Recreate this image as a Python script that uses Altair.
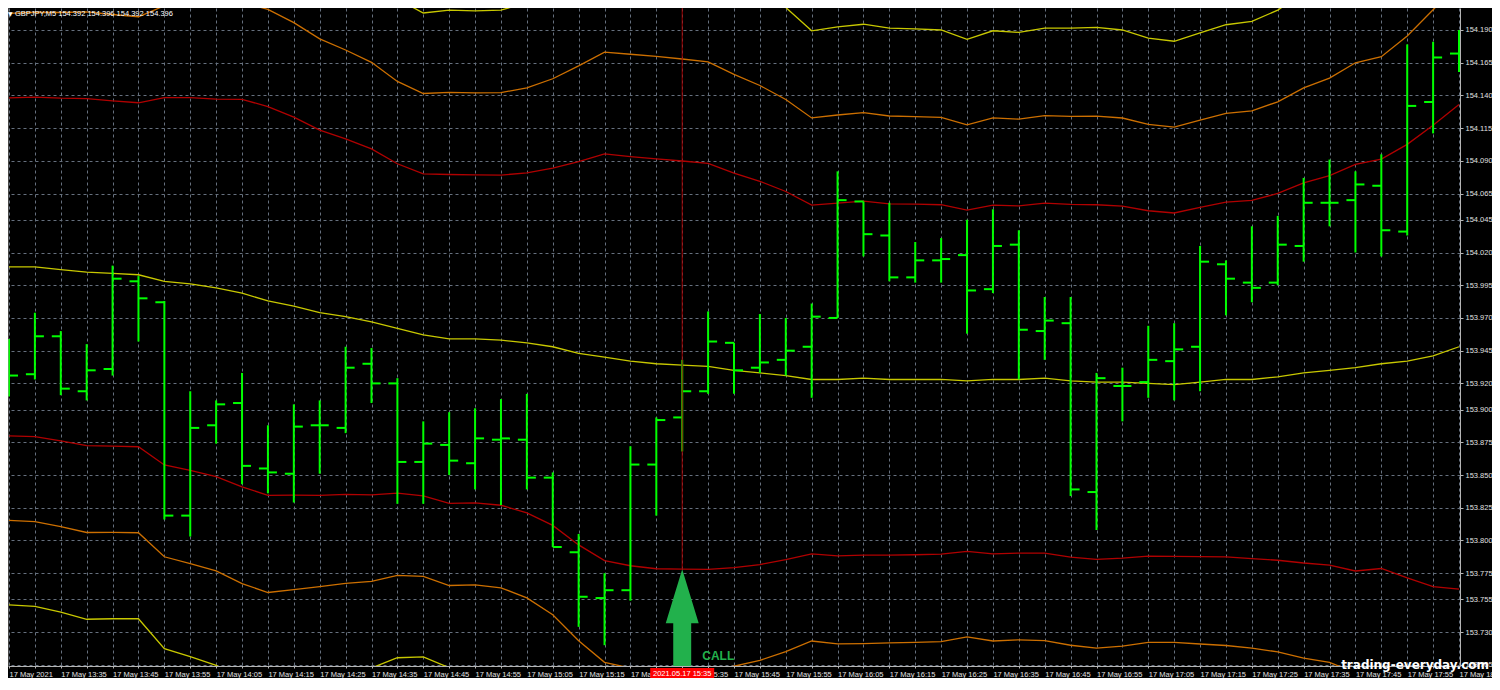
import json
import altair as alt
import pandas as pd

# ---------------- data (GBPJPY M5, 17 May 2021 13:25 .. 18:05) ----------------
bar_open = [153.930, 153.927, 153.956, 153.914, 153.931, 153.998, 153.982, 153.819, 153.888, 153.905,
            153.855, 153.851, 153.888, 153.886, 153.935, 153.920, 153.860, 153.873, 153.859, 153.877,
            153.877, 153.848, 153.791, 153.756, 153.762, 153.858, 153.894, 153.914, 153.951, 153.932,
            153.938, 153.948, 153.970, 154.059, 154.033, 154.001, 154.014, 154.018, 153.992, 154.026,
            153.960, 153.966, 153.837, 153.918, 153.921, 153.937, 153.948, 154.011, 153.997, 153.997,
            154.025, 154.058, 154.060, 154.071, 154.036, 154.135, 154.172]
bar_high = [153.954, 153.974, 153.960, 153.950, 154.010, 154.002, 153.983, 153.914, 153.907, 153.928,
            153.888, 153.904, 153.907, 153.948, 153.947, 153.924, 153.891, 153.898, 153.901, 153.908,
            153.912, 153.852, 153.805, 153.775, 153.872, 153.894, 153.938, 153.975, 153.951, 153.973,
            153.970, 153.981, 154.082, 154.059, 154.058, 154.028, 154.031, 154.045, 154.053, 154.037,
            153.986, 153.986, 153.928, 153.932, 153.964, 153.966, 154.025, 154.014, 154.040, 154.048,
            154.077, 154.091, 154.082, 154.095, 154.179, 154.181, 154.190]
bar_low = [153.910, 153.923, 153.911, 153.907, 153.926, 153.952, 153.816, 153.803, 153.874, 153.843,
           153.836, 153.829, 153.851, 153.882, 153.905, 153.828, 153.828, 153.850, 153.839, 153.827,
           153.839, 153.795, 153.734, 153.720, 153.754, 153.819, 153.868, 153.912, 153.912, 153.928,
           153.926, 153.909, 153.970, 154.017, 153.998, 153.997, 153.997, 153.958, 153.989, 153.923,
           153.938, 153.834, 153.808, 153.891, 153.909, 153.907, 153.914, 153.972, 153.982, 153.995,
           154.013, 154.040, 154.020, 154.017, 154.033, 154.111, 154.158]
bar_close = [153.926, 153.956, 153.916, 153.930, 154.000, 153.985, 153.819, 153.886, 153.904, 153.857,
             153.852, 153.887, 153.888, 153.932, 153.920, 153.860, 153.874, 153.861, 153.878, 153.878,
             153.848, 153.795, 153.757, 153.762, 153.858, 153.892, 153.914, 153.952, 153.930, 153.936,
             153.945, 153.971, 154.060, 154.034, 154.001, 154.014, 154.015, 153.991, 154.025, 153.961,
             153.968, 153.839, 153.924, 153.918, 153.938, 153.946, 154.013, 154.000, 153.993, 154.026,
             154.058, 154.058, 154.072, 154.037, 154.132, 154.169, 154.172]

# Bollinger middle line and band half-width (one deviation unit) at every bar
band_mid = [154.009, 154.009, 154.007, 154.005, 154.004, 154.003, 153.998, 153.996, 153.993, 153.989,
            153.983, 153.979, 153.974, 153.971, 153.967, 153.962, 153.957, 153.954, 153.954, 153.953,
            153.951, 153.948, 153.943, 153.940, 153.937, 153.935, 153.934, 153.933, 153.930, 153.928,
            153.926, 153.923, 153.923, 153.924, 153.923, 153.923, 153.923, 153.922, 153.923, 153.923,
            153.924, 153.922, 153.921, 153.921, 153.920, 153.919, 153.921, 153.923, 153.923, 153.925,
            153.928, 153.930, 153.932, 153.935, 153.937, 153.941, 153.948]
band_dev = [0.1291, 0.1297, 0.1309, 0.1326, 0.1319, 0.1314, 0.1403, 0.1424, 0.1442, 0.1480,
            0.1485, 0.1444, 0.1395, 0.1358, 0.1322, 0.1258, 0.1230, 0.1256, 0.1253, 0.1261,
            0.1299, 0.1365, 0.1464, 0.1554, 0.1563, 0.1566, 0.1559, 0.1551, 0.1507, 0.1464,
            0.1406, 0.1332, 0.1347, 0.1352, 0.1342, 0.1339, 0.1335, 0.1304, 0.1332, 0.1326,
            0.1337, 0.1347, 0.1355, 0.1345, 0.1319, 0.1312, 0.1334, 0.1355, 0.1368, 0.1401,
            0.1452, 0.1488, 0.1553, 0.1564, 0.1656, 0.1763, 0.1851]
band_names = ["upper 2.0", "upper 1.5", "upper 1.0", "middle", "lower 1.0", "lower 1.5", "lower 2.0"]
band_mult = [2.0, 1.5, 1.0, 0.0, -1.0, -1.5, -2.0]

y_ticks = [154.190, 154.165, 154.140, 154.115, 154.090, 154.065, 154.045, 154.020, 153.995, 153.970,
           153.945, 153.920, 153.900, 153.875, 153.850, 153.825, 153.800, 153.775, 153.755, 153.730,
           153.705]
x_labels = ["17 May 2021", "17 May 13:35", "17 May 13:45", "17 May 13:55", "17 May 14:05",
            "17 May 14:15", "17 May 14:25", "17 May 14:35", "17 May 14:45", "17 May 14:55",
            "17 May 15:05", "17 May 15:15", "17 May 15:25", "17 May 15:35", "17 May 15:45",
            "17 May 15:55", "17 May 16:05", "17 May 16:15", "17 May 16:25", "17 May 16:35",
            "17 May 16:45", "17 May 16:55", "17 May 17:05", "17 May 17:15", "17 May 17:25",
            "17 May 17:35", "17 May 17:45", "17 May 17:55", "17 May 18:05"]
signal_bar = 26
signal_label = "2021.05.17 15:35"
header_text = "GBPJPY,M5  154.392 154.396 154.392 154.396"
watermark = "trading-everyday.com"

# ---------------- styling ----------------
W, H = 1452, 658
YELLOW, ORANGE, RED = "#c8c800", "#cc6f00", "#b00000"
band_colors = [YELLOW, ORANGE, RED, YELLOW, RED, ORANGE, YELLOW]
BAR = "#00ff00"
GRID = "#66707e"
AXIS = "#b4b4b4"
LABEL = "#e0e0e0"
FONT = "Liberation Sans"
ARROW = "#22b14c"

n = len(bar_open)
idx = list(range(n))
bars = pd.DataFrame({"i": idx, "open": bar_open, "high": bar_high, "low": bar_low, "close": bar_close})

rows = []
for name, k in zip(band_names, band_mult):
    for i in idx:
        rows.append({"i": i, "band": name, "price": band_mid[i] + k * band_dev[i]})
bands = pd.DataFrame(rows)

sig = pd.DataFrame({"i": [signal_bar], "price": [band_mid[signal_bar] - band_dev[signal_bar]]})

step = (W - 2) / (n - 1)
x_scale = alt.Scale(domain=[-1 / step, (n - 1) + 1 / step], nice=False, zero=False)
y_scale = alt.Scale(domain=[153.7041, 154.2068], nice=False, zero=False)

label_expr = "datum.value % 2 == 0 ? " + json.dumps(x_labels) + "[datum.value / 2] : ''"
x_axis = alt.Axis(orient="bottom", values=idx, labelExpr=label_expr, grid=True, gridColor=GRID,
                  gridDash=[3, 3], gridWidth=1, domainColor=AXIS, tickColor=AXIS, tickSize=2,
                  labelAlign="left", labelBaseline="top", labelPadding=2, labelOverlap=False,
                  labelFlush=False, labelBound=False, labelColor=LABEL, labelFont=FONT,
                  labelFontSize=7.5, title=None)
y_axis = alt.Axis(orient="right", values=y_ticks, format=".3f", grid=True, gridColor=GRID,
                  gridDash=[3, 3], gridWidth=1, domainColor=AXIS, tickColor=AXIS, tickSize=3,
                  labelPadding=2, labelOverlap=False, labelFlush=False, labelBound=False,
                  labelColor=LABEL, labelFont=FONT, labelFontSize=7.5, labelBaseline="middle",
                  title=None)


def X():
    return alt.X("i:Q", scale=x_scale, axis=x_axis)


def Y(field):
    return alt.Y(field + ":Q", scale=y_scale, axis=y_axis)


lines = alt.Chart(bands).mark_line(strokeWidth=1.3, clip=True).encode(
    x=X(), y=Y("price"),
    color=alt.Color("band:N", scale=alt.Scale(domain=band_names, range=band_colors), legend=None),
)

hl = alt.Chart(bars).mark_rule(color=BAR, strokeWidth=2, clip=True).encode(
    x=X(), y=Y("low"), y2="high:Q")
op = alt.Chart(bars).mark_rule(color=BAR, strokeWidth=2, clip=True, xOffset=-9, x2Offset=0).encode(
    x=X(), x2="i:Q", y=Y("open"))
cl = alt.Chart(bars).mark_rule(color=BAR, strokeWidth=2, clip=True, xOffset=0, x2Offset=9).encode(
    x=X(), x2="i:Q", y=Y("close"))

vline = alt.Chart(sig).mark_rule(color="#a00000", strokeWidth=1).encode(
    x=X(), y=Y("price"), y2=alt.value(0))

arrow_path = "M0,-1 L0.314,0.029 L0.171,0.029 L0.171,1 L-0.171,1 L-0.171,0.029 L-0.314,0.029 Z"
arrow = alt.Chart(sig).mark_point(shape=arrow_path, size=105 * 105, filled=True, color=ARROW,
                                  opacity=1, strokeWidth=0, yOffset=52.5, clip=True).encode(
    x=X(), y=Y("price"))
call = alt.Chart(sig).mark_text(text="CALL", color=ARROW, font=FONT, fontSize=12, fontWeight="bold",
                                align="left", baseline="middle", dx=20, dy=87).encode(
    x=X(), y=Y("price"))

border = alt.Chart(sig).mark_rule(color="#8c8c8c", strokeWidth=1).encode(
    x=alt.value(0), y=alt.value(0), y2=alt.value(H))

date_box = alt.Chart(sig).mark_rect(color="#ff0000", xOffset=-32, x2Offset=32).encode(
    x=X(), x2="i:Q", y=alt.value(H + 2), y2=alt.value(H + 12))
date_txt = alt.Chart(sig).mark_text(text=signal_label, color="#ffffff", font=FONT, fontSize=7.5,
                                    align="center", baseline="middle").encode(
    x=X(), y=alt.value(H + 7.5))

tri = alt.Chart(sig).mark_text(text="▼", color="#ffffff", font="DejaVu Sans", fontSize=6,
                               align="left", baseline="top").encode(x=alt.value(0), y=alt.value(3))
head = alt.Chart(sig).mark_text(text=header_text, color="#ffffff", font=FONT, fontSize=7.5,
                                align="left", baseline="top").encode(x=alt.value(7), y=alt.value(2))
wm = alt.Chart(sig).mark_text(text=watermark, color="#ffffff", font="DejaVu Sans", fontSize=12,
                              fontWeight="bold", align="right", baseline="alphabetic").encode(
    x=alt.value(1481), y=alt.value(H + 3))

chart = alt.layer(lines, hl, op, cl, vline, arrow, call, border, date_box, date_txt, tri, head, wm).properties(
    width=W, height=H,
    autosize=alt.AutoSizeParams(type="none"),
    padding={"left": 0, "top": 0, "right": 32, "bottom": 12},
    background="#000000",
).configure_view(stroke=None)

chart.save("out.html", embed_options={"renderer": "svg", "actions": False})
